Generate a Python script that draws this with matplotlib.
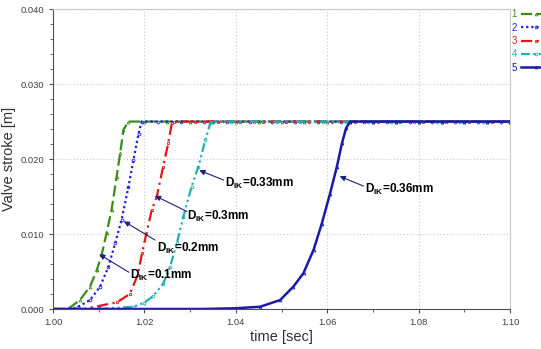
import matplotlib
matplotlib.use("Agg")
import matplotlib.pyplot as plt

# valve stroke curves (time [s], stroke [m])
t1 = [1.000, 1.0030, 1.0037, 1.0059, 1.0081, 1.0096, 1.0107, 1.0117, 1.0128, 1.0139, 1.0147, 1.0154, 1.0165,
      1.020, 1.025, 1.030, 1.035, 1.040, 1.045, 1.050, 1.055, 1.060, 1.065, 1.070, 1.075, 1.080, 1.085, 1.090, 1.095, 1.100]
s1 = [0.0, 0.0, 0.0002, 0.0012, 0.0030, 0.0052, 0.0074, 0.0101, 0.0132, 0.0176, 0.0208, 0.0239, 0.025,
      0.025, 0.025, 0.025, 0.025, 0.025, 0.025, 0.025, 0.025, 0.025, 0.025, 0.025, 0.025, 0.025, 0.025, 0.025, 0.025, 0.025]
t2 = [1.000, 1.0040, 1.0055, 1.0081, 1.0103, 1.0121, 1.0136, 1.0150, 1.0165, 1.0176, 1.0187, 1.0194,
      1.023, 1.028, 1.033, 1.038, 1.043, 1.048, 1.053, 1.058, 1.063, 1.068, 1.073, 1.078, 1.083, 1.088, 1.093, 1.098, 1.100]
s2 = [0.0, 0.0, 0.0003, 0.0012, 0.0030, 0.0056, 0.0088, 0.0119, 0.0163, 0.0199, 0.0234, 0.025,
      0.025, 0.025, 0.025, 0.025, 0.025, 0.025, 0.025, 0.025, 0.025, 0.025, 0.025, 0.025, 0.025, 0.025, 0.025, 0.025, 0.025]
t3 = [1.000, 1.0066, 1.0100, 1.0140, 1.0168, 1.0185, 1.0195, 1.0204, 1.0216, 1.0227, 1.0241, 1.0252, 1.0260, 1.0265,
      1.031, 1.036, 1.041, 1.046, 1.051, 1.056, 1.061, 1.066, 1.071, 1.076, 1.081, 1.086, 1.091, 1.096, 1.100]
s3 = [0.0, 0.0, 0.0004, 0.0009, 0.0020, 0.0045, 0.0075, 0.0100, 0.0132, 0.0150, 0.0190, 0.0221, 0.0248, 0.025,
      0.025, 0.025, 0.025, 0.025, 0.025, 0.025, 0.025, 0.025, 0.025, 0.025, 0.025, 0.025, 0.025, 0.025, 0.025]
t4 = [1.000, 1.0100, 1.0176, 1.0198, 1.0219, 1.0241, 1.0256, 1.0271, 1.0285, 1.0303, 1.0318, 1.0333, 1.0344, 1.0350,
      1.039, 1.044, 1.049, 1.054, 1.059, 1.064, 1.069, 1.074, 1.079, 1.084, 1.089, 1.094, 1.100]
s4 = [0.0, 0.0, 0.0003, 0.0008, 0.0017, 0.0034, 0.0056, 0.0088, 0.0123, 0.0163, 0.0190, 0.0225, 0.0248, 0.025,
      0.025, 0.025, 0.025, 0.025, 0.025, 0.025, 0.025, 0.025, 0.025, 0.025, 0.025, 0.025, 0.025]
t5 = [1.000, 1.0326, 1.0400, 1.0453, 1.0497, 1.0526, 1.0548, 1.0570, 1.0588, 1.0606, 1.0621, 1.0632, 1.0641, 1.0650,
      1.070, 1.075, 1.080, 1.085, 1.090, 1.095, 1.100]
s5 = [0.0, 0.0, 0.0001, 0.0003, 0.0012, 0.0030, 0.0048, 0.0079, 0.0114, 0.0154, 0.0190, 0.0221, 0.0241, 0.025,
      0.025, 0.025, 0.025, 0.025, 0.025, 0.025, 0.025]

series = [(t1, s1), (t2, s2), (t3, s3), (t4, s4), (t5, s5)]
labels = ["1", "2", "3", "4", "5"]
colors = ["#3c8c1c", "#2020e0", "#e01818", "#20b0b0", "#1a1aa8"]
styles = [(0, (5, 2)), (0, (1, 1.3)), (0, (5, 2, 1, 2)), (0, (4, 1.5, 1, 1.5, 1, 1.5)), "-"]
markers = ["^", "o", "s", "o", "^"]
widths = [1.6, 1.6, 1.6, 1.6, 1.8]

# annotations: label, text position (left, centre), arrow tail, arrow head
notes = ["0.1mm", "0.2mm", "0.3mm", "0.33mm", "0.36mm"]
text_xy = [(1.0168, 0.0045), (1.0228, 0.0081), (1.0293, 0.0123), (1.0376, 0.0168), (1.0683, 0.0159)]
tail_xy = [(1.0166, 0.0049), (1.0223, 0.0092), (1.0293, 0.0130), (1.0373, 0.0172), (1.0679, 0.0164)]
head_xy = [(1.0101, 0.0073), (1.0155, 0.0117), (1.0223, 0.0151), (1.0320, 0.0185), (1.0627, 0.0177)]

plt.rcParams["font.family"] = ["Liberation Sans", "DejaVu Sans"]
fig = plt.figure(figsize=(5.41, 3.49), dpi=100)
ax = fig.add_axes([0.098, 0.1146, 0.845, 0.8594])

handles = []
for (t, s), c, ls, m, w in zip(series, colors, styles, markers, widths):
    ln, = ax.plot(t, s, color=c, linestyle=ls, lw=w, marker=m, markersize=2,
                  markerfacecolor="none", markeredgewidth=0.6)
    handles.append(ln)

ax.set_xlim(1.0, 1.1)
ax.set_ylim(0.0, 0.04)
ax.set_xticks([1.00, 1.02, 1.04, 1.06, 1.08, 1.10])
ax.set_xticks([1.01, 1.03, 1.05, 1.07, 1.09], minor=True)
ax.set_yticks([0.0, 0.01, 0.02, 0.03, 0.04])
ax.set_yticks([0.002 * i for i in range(21)], minor=True)
ax.xaxis.set_major_formatter(plt.FormatStrFormatter("%.2f"))
ax.yaxis.set_major_formatter(plt.FormatStrFormatter("%.3f"))
ax.tick_params(labelsize=6.8, labelcolor="#404040", color="#505050", length=3)
ax.tick_params(which="minor", length=2, color="#505050")
ax.grid(True, which="major", linestyle=(0, (1, 2)), color="#c8c8c8", lw=0.8)
for side in ["top", "right"]:
    ax.spines[side].set_color("#c8c8c8")
for side in ["left", "bottom"]:
    ax.spines[side].set_color("#505050")

ax.set_xlabel("time [sec]", fontsize=10.5, color="#303030", labelpad=2)
ax.set_ylabel("Valve stroke [m]", fontsize=10.5, color="#303030", labelpad=3)

for txt, xy, txy, hxy in zip(notes, text_xy, tail_xy, head_xy):
    ax.text(xy[0], xy[1], r"D$_{\mathregular{IK}}$=" + txt, fontsize=8.5,
            fontweight="bold", family=["Liberation Sans Narrow", "Liberation Sans"],
            ha="left", va="center", color="black")
    ax.annotate("", xy=hxy, xytext=txy,
                arrowprops=dict(arrowstyle="-|>", color="#202080", lw=0.8,
                                mutation_scale=8, shrinkA=0, shrinkB=0))

leg = fig.legend(handles, labels, loc="upper left", bbox_to_anchor=(0.938, 0.985),
                 frameon=False, fontsize=7, handlelength=3.2, handletextpad=0.4,
                 labelspacing=0.35, borderaxespad=0, markerfirst=False)
for txt, c in zip(leg.get_texts(), colors):
    txt.set_color(c)

fig.savefig("out.png", dpi=100)
